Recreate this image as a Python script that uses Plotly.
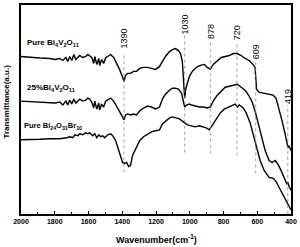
import plotly.graph_objects as go

# Pure Bi4V2O11
wn_bv = [2000, 1947, 1888, 1829, 1799, 1770, 1752, 1734, 1723, 1711, 1699, 1687, 1675, 1663, 1652,
         1634, 1616, 1604, 1581, 1569, 1563, 1551, 1539, 1534, 1522, 1510, 1498, 1486, 1469, 1451,
         1433, 1416, 1398, 1390, 1380, 1368, 1351, 1333, 1315, 1297, 1274, 1250, 1227, 1203, 1179,
         1162, 1144, 1120, 1103, 1085, 1067, 1055, 1044, 1030, 1024, 1014, 1002, 985, 961, 937, 914,
         896, 878, 861, 837, 813, 790, 766, 742, 718, 695, 672, 648, 630, 613, 604, 590, 559, 530,
         506, 489, 471, 453, 435, 424, 418, 412, 406, 400]
t_bv = [159, 158, 157.5, 157, 156, 157, 155, 158, 154, 159, 155, 161, 156, 158, 160,
        158, 159, 161, 158, 152, 159, 151, 157, 150, 156, 152, 158, 159, 161, 158,
        152, 146, 138, 134, 140, 142, 142, 144, 144, 147, 148, 148, 147, 146, 149,
        154, 159, 164, 166, 167, 165, 162, 154, 117, 126, 132, 139, 144, 148, 150, 151,
        148, 146, 151, 155, 158, 159, 160, 162, 162, 160, 157, 155, 152, 148, 126, 123, 122, 121,
        120, 117, 106, 94, 81, 72, 67, 69, 66, 64]

# 25% Bi4V2O11
wn_mix = [2000, 1947, 1888, 1829, 1799, 1770, 1752, 1734, 1723, 1711, 1699, 1687, 1675, 1663, 1652,
          1634, 1616, 1604, 1593, 1581, 1569, 1563, 1551, 1539, 1534, 1522, 1510, 1498, 1486, 1469,
          1451, 1433, 1416, 1398, 1390, 1380, 1368, 1351, 1333, 1315, 1297, 1274, 1250, 1227, 1203,
          1179, 1162, 1144, 1120, 1103, 1085, 1067, 1049, 1030, 1020, 1002, 990, 967, 943, 920, 896,
          878, 861, 837, 813, 790, 766, 742, 718, 695, 672, 648, 630, 613, 590, 571, 553, 530, 512,
          494, 477, 459, 441, 430, 424, 418, 412, 400]
t_mix = [114, 113.5, 113, 113, 112, 113, 110, 114, 110, 115, 111, 116, 112, 114, 116,
         114, 115, 117, 116, 113, 107, 114, 106, 112, 105, 111, 108, 114, 115, 117,
         114, 109, 104, 98, 95, 100, 101, 100, 101, 100, 104, 107, 109, 108, 106,
         108, 116, 121, 125, 127, 127, 126, 122, 108, 110, 111, 110, 109, 108, 108, 107,
         108, 114, 120, 124, 128, 129, 130, 131, 128, 125, 119, 113, 104, 89, 76, 64, 54, 52,
         54, 50, 44, 37, 32, 30, 32, 28, 24]

# Pure Bi24O31Br10
wn_br = [2000, 1947, 1888, 1829, 1770, 1728, 1711, 1693, 1681, 1663, 1652, 1634, 1616, 1604, 1593,
         1575, 1563, 1551, 1539, 1528, 1516, 1504, 1486, 1469, 1457, 1439, 1427, 1410, 1398, 1386,
         1374, 1362, 1351, 1339, 1321, 1297, 1274, 1250, 1227, 1203, 1179, 1162, 1144, 1120, 1103,
         1085, 1061, 1038, 1014, 990, 967, 943, 920, 902, 884, 866, 843, 819, 796, 772, 748, 730,
         718, 707, 683, 665, 642, 618, 601, 583, 559, 530, 506, 489, 471, 447, 424, 400]
t_br = [75, 75, 75.5, 76, 76, 77, 78, 77, 80, 79, 81, 80, 82, 81, 82,
        79, 81, 77, 80, 78, 79, 77, 80, 81, 79, 74, 68, 59, 52, 51,
        52, 48, 49, 59, 66, 74, 78, 81, 83, 84, 85, 91, 94, 97, 98,
        97, 96, 93, 90, 89, 88, 89, 88, 87, 85, 90, 96, 102, 106, 108, 110, 111,
        108, 110, 107, 102, 92, 77, 66, 54, 44, 37, 36, 33, 27, 19, 11, 4]

# marked bands: wavenumber, line bottom, line top, label centre
band_wn = [1390, 1030, 878, 720, 609, 419]
band_lo = [42, 62, 61, 59, 41, 0]
band_hi = [160, 180, 175, 173, 156, 110]
band_lab = [177, 191, 184, 182.5, 164, 119]

series_names = ["Pure Bi<sub>4</sub>V<sub>2</sub>O<sub>11</sub>",
                "25%Bi<sub>4</sub>V<sub>2</sub>O<sub>11</sub>",
                "Pure Bi<sub>24</sub>O<sub>31</sub>Br<sub>10</sub>"]
name_x = [1977, 1977, 1995]
name_y = [173, 127, 89]
name_size = [8, 8, 7.5]

x_ticks = [2000, 1800, 1600, 1400, 1200, 1000, 800, 600, 400]

FONT = "Liberation Sans, Arial, sans-serif"

fig = go.Figure()
for wn, t in [(wn_bv, t_bv), (wn_mix, t_mix), (wn_br, t_br)]:
    fig.add_trace(go.Scatter(x=wn, y=t, mode="lines",
                             line=dict(color="black", width=1.4), showlegend=False))

for w, lo, hi in zip(band_wn, band_lo, band_hi):
    fig.add_trace(go.Scatter(x=[w, w], y=[lo, hi], mode="lines",
                             line=dict(color="#888888", width=0.8, dash="dot"),
                             showlegend=False))

annotations = []
for w, yl in zip(band_wn, band_lab):
    annotations.append(dict(x=w, y=yl, xref="x", yref="y", text=str(w), textangle=-90,
                            showarrow=False, xanchor="center", yanchor="middle",
                            font=dict(family=FONT, size=9, color="black")))
for nm, xx, yy, sz in zip(series_names, name_x, name_y, name_size):
    annotations.append(dict(x=xx, y=yy, xref="x", yref="y", text=nm, showarrow=False,
                            xanchor="left", yanchor="middle",
                            font=dict(family=FONT, size=sz, color="black", weight="bold")))
annotations.append(dict(x=0.5, y=-0.12, xref="paper", yref="paper",
                        text="Wavenumber(cm<sup>-1</sup>)", showarrow=False,
                        xanchor="center", yanchor="middle",
                        font=dict(family=FONT, size=9, color="black", weight="bold")))
annotations.append(dict(x=-0.03, y=0.54, xref="paper", yref="paper",
                        text="Transmittance(a.u.)", textangle=-90, showarrow=False,
                        xanchor="right", yanchor="middle",
                        font=dict(family=FONT, size=8, color="black", weight="bold")))

fig.update_layout(
    width=300, height=247,
    margin=dict(l=21, r=8, t=3, b=33),
    paper_bgcolor="white", plot_bgcolor="white",
    annotations=annotations,
    xaxis=dict(range=[2000, 400], tickvals=x_ticks, ticktext=[str(v) for v in x_ticks],
               ticks="inside", ticklen=3, tickwidth=1, tickcolor="black",
               minor=dict(ticks="inside", ticklen=2, dtick=100, tickcolor="black"),
               showline=True, linecolor="black", linewidth=1.5, mirror=True,
               showgrid=False, zeroline=False,
               tickfont=dict(family=FONT, size=7, color="black", weight="bold")),
    yaxis=dict(range=[0, 211], showticklabels=False, ticks="",
               showline=True, linecolor="black", linewidth=1.5, mirror=True,
               showgrid=False, zeroline=False),
)

fig.write_html("out.html", config={"displayModeBar": False},
               post_script="document.body.style.margin='0';")
